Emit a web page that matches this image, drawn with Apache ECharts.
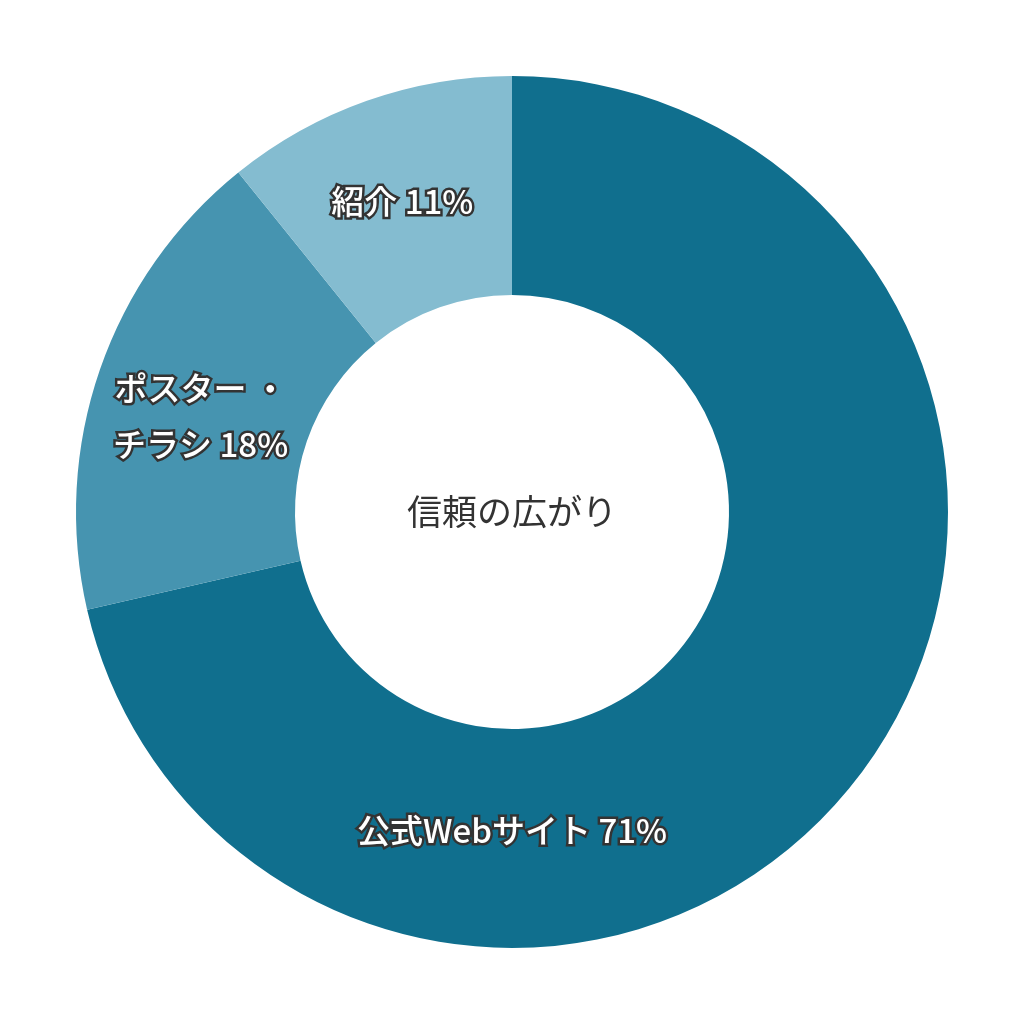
<!DOCTYPE html>
<html>
<head>
<meta charset="utf-8">
<script src="https://cdn.jsdelivr.net/npm/echarts@6/dist/echarts.min.js"></script>
<style>
  html, body { margin: 0; padding: 0; background: #fff; }
  #chart { width: 1024px; height: 1024px; }
</style>
</head>
<body>
<div id="chart"></div>
<script>
// 項目と割合
var categories = ['公式Webサイト', 'ポスター・チラシ', '紹介'];
var shares = [71.4, 17.8, 10.8];
var colors = ['#106f8e', '#4694b0', '#84bcd0'];
var centerTitle = '信頼の広がり';

var chart = echarts.init(document.getElementById('chart'));

var pieData = categories.map(function (name, i) {
  return { name: name, value: shares[i], itemStyle: { color: colors[i] } };
});

var option = {
  animation: false,
  title: {
    text: centerTitle,
    left: 'center',
    top: 'middle',
    textStyle: {
      fontFamily: 'Noto Sans CJK JP',
      fontSize: 35,
      fontWeight: 'normal',
      color: '#333'
    }
  },
  series: [
    {
      type: 'pie',
      center: ['50%', '50%'],
      radius: [217, 436],
      startAngle: 90,
      clockwise: true,
      silent: true,
      data: pieData,
      label: {
        show: true,
        position: 'inside',
        formatter: function (p) {
          return p.name.replace('・', ' ・\n') + ' ' + Math.round(p.percent) + '%';
        },
        fontFamily: 'Noto Sans CJK JP',
        fontSize: 33,
        fontWeight: 500,
        lineHeight: 56,
        color: '#fff',
        textBorderColor: '#333',
        textBorderWidth: 5
      },
      labelLine: { show: false },
      // 一番大きい項目のラベルは下側に置く
      labelLayout: function (params) {
        if (params.dataIndex === 0) {
          return { x: 512, y: 830, align: 'center', verticalAlign: 'middle' };
        }
        if (params.dataIndex === 1) {
          return { dy: 12 };
        }
        return {};
      }
    }
  ]
};

chart.setOption(option);
</script>
</body>
</html>
